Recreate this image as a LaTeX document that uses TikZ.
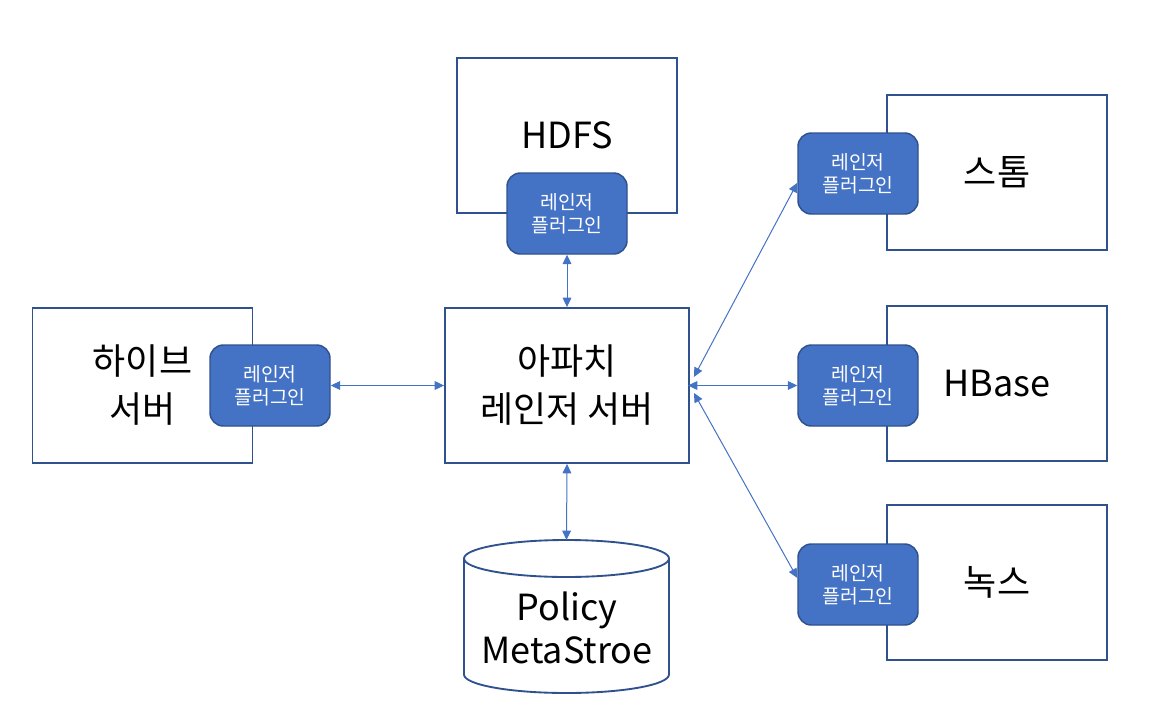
\documentclass[tikz,border=0pt]{standalone}
\usepackage{fontspec}
\setmainfont{Noto Sans CJK KR}
\usetikzlibrary{arrows.meta}

\definecolor{boxline}{HTML}{2F528F}
\definecolor{plugfill}{HTML}{4472C4}

\begin{document}
\begin{tikzpicture}[x=0.75pt, y=-0.75pt,
             every node/.style = {align=center},
             sysbox/.style = {draw=boxline, line width=1.4pt, shape=rectangle,
                              minimum width=165pt, minimum height=116.25pt,
                              font=\fontsize{27}{36}\selectfont},
             plugin/.style = {draw=boxline, fill=plugfill, line width=1.1pt, rounded corners=10pt,
                              minimum width=90pt, minimum height=60.75pt, text=white,
                              font=\fontsize{14.5}{17.5}\selectfont},
             link/.style = {draw=plugfill, line width=0.75pt, {Triangle[length=7pt,width=6.5pt]}-{Triangle[length=7pt,width=6.5pt]}}]
\useasboundingbox (0,0) rectangle (1164,725);

\node [sysbox] (hdfs) at (567,135.5) {HDFS};
\node [sysbox] (hive) at (142.5,385.5) {하이브\\서버};
\node [sysbox, minimum width=183pt] (server) at (567,385.5) {아파치\\레인저 서버};
\node [sysbox] (storm) at (997,172.5) {스톰};
\node [sysbox] (hbase) at (997,383.5) {HBase};
\node [sysbox] (knox) at (997,582.5) {녹스};

\node [plugin] (hdfsplug) at (567,213.5) {레인저\\플러그인};
\node [plugin] (hiveplug) at (270,385.5) {레인저\\플러그인};
\node [plugin] (stormplug) at (858,173.5) {레인저\\플러그인};
\node [plugin] (hbaseplug) at (858,385.5) {레인저\\플러그인};
\node [plugin] (knoxplug) at (858,584.5) {레인저\\플러그인};

% metastore cylinder
\draw [draw=boxline, line width=1.4pt, fill=white] (566.5,558.5) ellipse [x radius=102.5, y radius=18.5];
\draw [draw=boxline, line width=1.4pt] (464,558.5) -- (464,674.5)
  arc [start angle=180, end angle=0, x radius=102.5, y radius=18.5] -- (669,558.5);
\coordinate (dbtop) at (566.5,540);
\node [font=\fontsize{27}{32}\selectfont] (db) at (567,628) {Policy\\MetaStroe};

\draw [link] (hdfsplug.south) -- (server.north);
\draw [link] (hiveplug.east) -- (server.west);
\draw [link] (server.south) -- (dbtop);
\draw [link] ([xshift=3pt, yshift=6.4pt]server.east) -- ([yshift=-7pt]stormplug.west);
\draw [link] ([xshift=-1.5pt]server.east) -- (hbaseplug.west);
\draw [link] ([xshift=3pt, yshift=-5.6pt]server.east) -- ([yshift=4.9pt]knoxplug.west);

\end{tikzpicture}
\end{document}
